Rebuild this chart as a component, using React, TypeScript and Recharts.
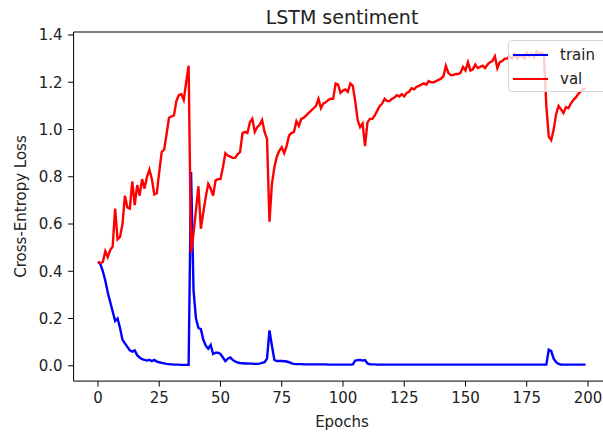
import { LineChart, Line, XAxis, YAxis, ReferenceLine } from 'recharts';

// epochs 0..199, values
const epochs = Array.from({ length: 200 }, (_, i) => i);

const trainLoss = [
  0.44, 0.43, 0.4, 0.36, 0.31, 0.27, 0.23, 0.19, 0.2, 0.16,
  0.11, 0.095, 0.08, 0.065, 0.06, 0.065, 0.045, 0.035, 0.028, 0.025,
  0.022, 0.025, 0.02, 0.025, 0.018, 0.015, 0.012, 0.01, 0.008, 0.007,
  0.006, 0.005, 0.005, 0.005, 0.004, 0.004, 0.004, 0.004, 0.82, 0.32,
  0.2, 0.16, 0.155, 0.11, 0.085, 0.072, 0.088, 0.05, 0.055, 0.055,
  0.05, 0.035, 0.02, 0.03, 0.035, 0.025, 0.018, 0.014, 0.012, 0.011,
  0.01, 0.01, 0.009, 0.009, 0.008, 0.008, 0.009, 0.012, 0.015, 0.03,
  0.15, 0.085, 0.025, 0.02, 0.02, 0.02, 0.019, 0.018, 0.015, 0.01,
  0.008, 0.007, 0.007, 0.007, 0.006, 0.006, 0.006, 0.006, 0.006, 0.006,
  0.006, 0.006, 0.006, 0.006, 0.005, 0.005, 0.005, 0.005, 0.005, 0.005,
  0.005, 0.005, 0.005, 0.005, 0.006, 0.022, 0.024, 0.025, 0.022, 0.024,
  0.01, 0.006, 0.006, 0.006, 0.005, 0.005, 0.005, 0.005, 0.005, 0.005,
  0.005, 0.005, 0.005, 0.005, 0.005, 0.005, 0.005, 0.005, 0.005, 0.005,
  0.005, 0.005, 0.005, 0.005, 0.005, 0.005, 0.005, 0.005, 0.005, 0.005,
  0.005, 0.005, 0.005, 0.005, 0.005, 0.005, 0.005, 0.005, 0.005, 0.005,
  0.005, 0.005, 0.005, 0.005, 0.005, 0.005, 0.005, 0.005, 0.005, 0.005,
  0.005, 0.005, 0.005, 0.005, 0.005, 0.005, 0.005, 0.005, 0.005, 0.005,
  0.005, 0.005, 0.005, 0.005, 0.005, 0.005, 0.005, 0.005, 0.005, 0.005,
  0.005, 0.005, 0.005, 0.005, 0.068, 0.062, 0.03, 0.015, 0.008, 0.005,
  0.005, 0.005, 0.005, 0.005, 0.005, 0.005, 0.005, 0.005, 0.005, 0.005,
];

const valLoss = [
  0.44, 0.435, 0.44, 0.485, 0.46, 0.49, 0.505, 0.665, 0.535, 0.545,
  0.6, 0.72, 0.67, 0.665, 0.78, 0.68, 0.765, 0.72, 0.79, 0.75,
  0.8, 0.83, 0.79, 0.725, 0.73, 0.82, 0.905, 0.915, 0.98, 1.05,
  1.055, 1.06, 1.12, 1.145, 1.15, 1.125, 1.2, 1.27, 0.48, 0.56,
  0.66, 0.76, 0.58, 0.65, 0.715, 0.77, 0.75, 0.72, 0.785, 0.79,
  0.79, 0.84, 0.9, 0.89, 0.885, 0.88, 0.88, 0.895, 0.905, 0.985,
  0.99, 0.985, 1.03, 1.045, 0.99, 1.01, 1.02, 1.04, 0.99, 0.96,
  0.61, 0.77, 0.84, 0.885, 0.91, 0.925, 0.9, 0.93, 0.975, 0.985,
  0.99, 1.035, 1.015, 1.045, 1.05, 1.06, 1.07, 1.08, 1.09, 1.1,
  1.13, 1.09, 1.11, 1.115, 1.125, 1.13, 1.13, 1.195, 1.19, 1.155,
  1.165, 1.17, 1.16, 1.195, 1.185, 1.12, 1.04, 1.01, 1.025, 0.93,
  1.03, 1.045, 1.045, 1.06, 1.08, 1.1, 1.11, 1.13, 1.12, 1.12,
  1.13, 1.135, 1.145, 1.14, 1.15, 1.14, 1.155, 1.16, 1.175, 1.17,
  1.18, 1.185, 1.19, 1.195, 1.19, 1.205, 1.2, 1.2, 1.205, 1.21,
  1.215, 1.225, 1.27, 1.24, 1.23, 1.23, 1.235, 1.235, 1.24, 1.265,
  1.25, 1.285, 1.25, 1.255, 1.275, 1.26, 1.265, 1.27, 1.26, 1.275,
  1.285, 1.29, 1.31, 1.26, 1.285, 1.29, 1.3, 1.3, 1.31, 1.3,
  1.32, 1.3, 1.31, 1.315, 1.3, 1.325, 1.31, 1.32, 1.305, 1.33,
  1.32, 1.325, 1.32, 1.1, 0.97, 0.955, 1.0, 1.065, 1.1, 1.085,
  1.07, 1.095, 1.09, 1.11, 1.125, 1.135, 1.15, 1.16, 1.17, 1.175,
];

const xTicks = [0, 25, 50, 75, 100, 125, 150, 175, 200];
const yTicks = [0, 0.2, 0.4, 0.6, 0.8, 1.0, 1.2, 1.4];
const xDomain = [-9.95, 208.95];
const yDomain = [-0.0648, 1.4127];

const data = epochs.map((e, i) => ({ epoch: e, train: trainLoss[i], val: valLoss[i] }));

const FONT = "'DejaVu Sans', sans-serif";
const tickStyle = { fontSize: 15, fill: '#222', fontFamily: FONT };

export default function App() {
  return (
    <div
      style={{
        position: 'fixed',
        left: 0,
        top: 0,
        width: 603,
        height: 432,
        overflow: 'hidden',
        background: '#fff',
        fontFamily: FONT,
      }}
    >
      <LineChart
        width={620}
        height={432}
        data={data}
        margin={{ top: 32, right: 10.1, bottom: 0, left: 0 }}
      >
        <XAxis
          dataKey="epoch"
          type="number"
          domain={xDomain}
          ticks={xTicks}
          interval={0}
          allowDataOverflow
          height={50.9}
          tickSize={5.5}
          tickMargin={5.5}
          stroke="#000"
          tick={tickStyle}
        />
        <YAxis
          type="number"
          domain={yDomain}
          ticks={yTicks}
          interval={0}
          allowDataOverflow
          width={73.6}
          tickSize={5.5}
          tickMargin={5.5}
          stroke="#000"
          tick={tickStyle}
          tickFormatter={(v: number) => v.toFixed(1)}
        />
        {/* top spine */}
        <ReferenceLine y={yDomain[1]} stroke="#000" strokeWidth={1} />
        <Line
          dataKey="train"
          type="linear"
          stroke="#0000ff"
          strokeWidth={2.4}
          dot={false}
          isAnimationActive={false}
        />
        <Line
          dataKey="val"
          type="linear"
          stroke="#ff0000"
          strokeWidth={2.4}
          dot={false}
          isAnimationActive={false}
        />
      </LineChart>

      {/* title and axis labels */}
      <svg
        width={603}
        height={432}
        style={{ position: 'absolute', left: 0, top: 0, pointerEvents: 'none' }}
      >
        <text x={342} y={24} textAnchor="middle" fontSize={19} fill="#222" fontFamily={FONT}>
          LSTM sentiment
        </text>
        <text x={342} y={427} textAnchor="middle" fontSize={15} fill="#222" fontFamily={FONT}>
          Epochs
        </text>
        <text
          x={26}
          y={206.5}
          textAnchor="middle"
          fontSize={15}
          fill="#222"
          fontFamily={FONT}
          transform="rotate(-90 26 206.5)"
        >
          Cross-Entropy Loss
        </text>
      </svg>

      {/* legend, upper right */}
      <div
        style={{
          position: 'absolute',
          left: 508,
          top: 40,
          width: 100,
          height: 52,
          boxSizing: 'border-box',
          background: 'rgba(255,255,255,0.8)',
          border: '1px solid #d6d6d6',
          borderRadius: 4,
          fontSize: 15,
          color: '#222',
        }}
      >
        {[
          { name: 'train', color: '#0000ff' },
          { name: 'val', color: '#ff0000' },
        ].map((s, i) => (
          <div
            key={s.name}
            style={{
              position: 'absolute',
              left: 0,
              top: 4 + i * 24,
              height: 20,
              display: 'flex',
              alignItems: 'center',
            }}
          >
            <div style={{ marginLeft: 4, width: 35, height: 2.4, background: s.color }} />
            <span style={{ marginLeft: 12 }}>{s.name}</span>
          </div>
        ))}
      </div>
    </div>
  );
}
